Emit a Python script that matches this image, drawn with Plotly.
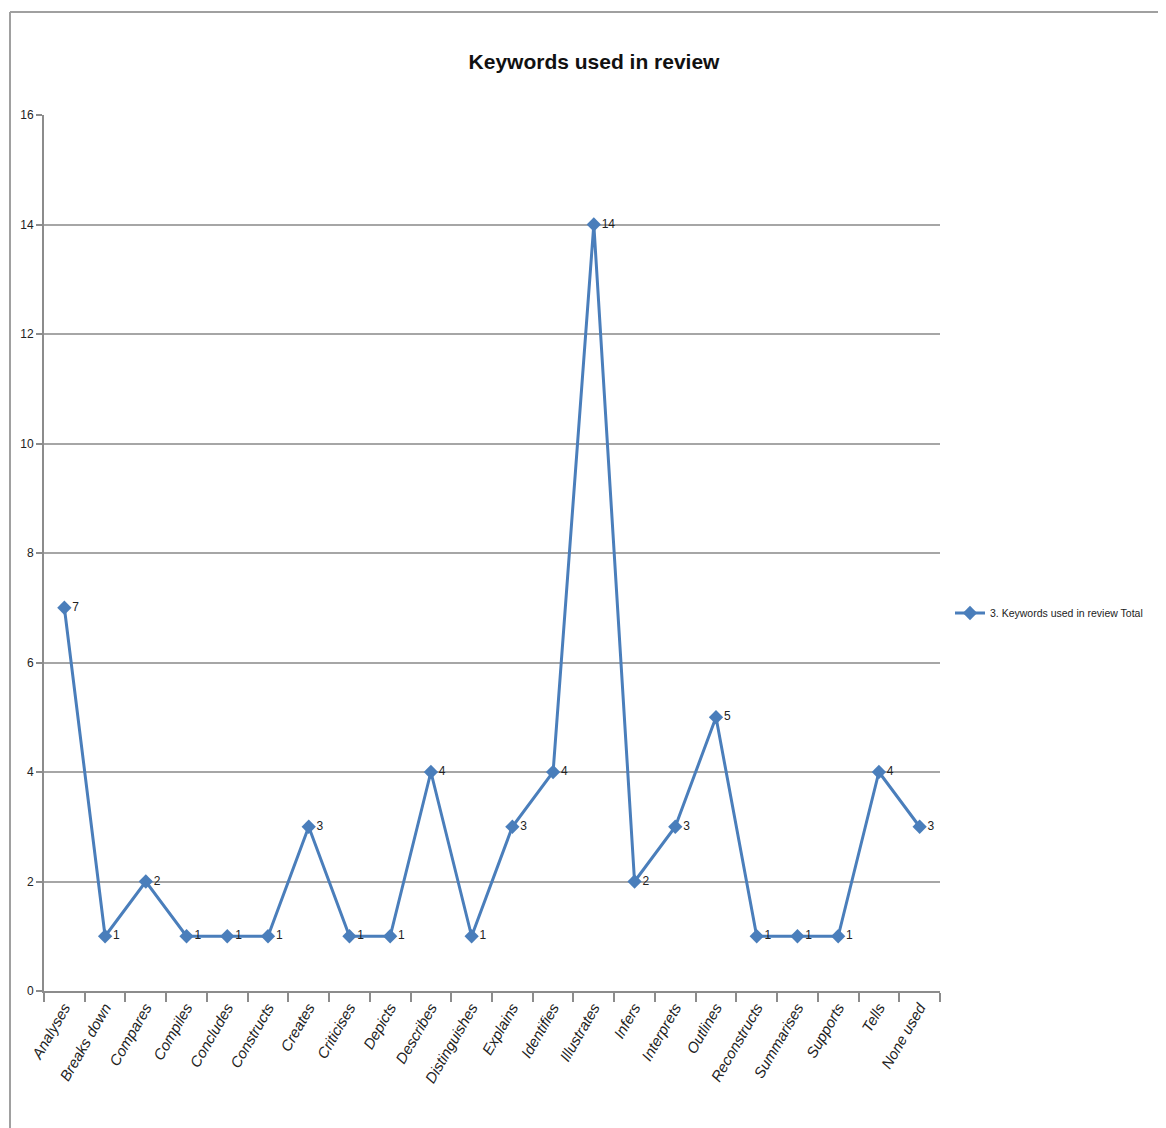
import plotly.graph_objects as go

categories = ["Analyses", "Breaks down", "Compares", "Compiles", "Concludes", "Constructs",
              "Creates", "Criticises", "Depicts", "Describes", "Distinguishes", "Explains",
              "Identifies", "Illustrates", "Infers", "Interprets", "Outlines", "Reconstructs",
              "Summarises", "Supports", "Tells", "None used"]
values = [7, 1, 2, 1, 1, 1, 3, 1, 1, 4, 1, 3, 4, 14, 2, 3, 5, 1, 1, 1, 4, 3]
series_name = "3. Keywords used in review Total"
title_text = "Keywords used in review"

# page body has an 8px margin; work in reference pixel coords and shift
OFF = 8
W, H = 1166 - OFF, 1128 - OFF
L, R, T, B = 44 - OFF, 940 - OFF, 115 - OFF, 991 - OFF

def px(x):
    return (x - OFF - L) / (R - L)

def py(y):
    return (B - (y - OFF)) / (B - T)

FONT = "Liberation Sans, Arial, sans-serif"
BLUE = "#4a7ebb"

fig = go.Figure()
fig.add_trace(go.Scatter(
    x=categories, y=values, mode="lines+markers+text", name=series_name,
    line=dict(color=BLUE, width=3),
    marker=dict(symbol="diamond", size=11, color=BLUE),
    text=[str(v) for v in values], textposition="middle right",
    textfont=dict(family=FONT, size=12, color="#222222"),
    cliponaxis=False,
))

fig.update_layout(
    width=W, height=H, autosize=False,
    margin=dict(l=L, r=W - R, t=T, b=H - B, autoexpand=False),
    paper_bgcolor="white", plot_bgcolor="white",
    title=dict(text=title_text, x=(594 - OFF) / W, y=1 - (62 - OFF) / H,
               xanchor="center", yanchor="middle",
               xref="container", yref="container",
               font=dict(family=FONT, size=21, color="#111111", weight="bold")),
    showlegend=True,
    legend=dict(x=px(950), y=py(613), xanchor="left", yanchor="middle",
                font=dict(family=FONT, size=10.5, color="#222222"),
                itemwidth=30,
                bgcolor="rgba(0,0,0,0)"),
    font=dict(family=FONT),
)

fig.update_xaxes(
    type="category", range=[-0.5, len(categories) - 0.5], automargin=False,
    tickson="boundaries", ticks="outside", ticklen=9, tickcolor="#8c8c8c", tickwidth=1.5,
    showline=True, linecolor="#8c8c8c", linewidth=2, showgrid=False,
    tickangle=-60,
    tickfont=dict(family=FONT, size=15, color="#222222", style="italic"),
)
fig.update_yaxes(
    range=[0, 16], dtick=2, ticks="outside", ticklen=6, tickcolor="#8c8c8c", tickwidth=1.5,
    automargin=False,
    showline=True, linecolor="#8c8c8c", linewidth=2,
    showgrid=True, gridcolor="#a6a6a6", gridwidth=1.5, zeroline=False,
    tickfont=dict(family=FONT, size=12, color="#222222"),
)

# outer chart border (left and top edges visible)
fig.add_shape(type="line", xref="paper", yref="paper",
              x0=px(10), x1=px(10), y0=py(1140), y1=py(12),
              line=dict(color="#a0a0a0", width=2))
fig.add_shape(type="line", xref="paper", yref="paper",
              x0=px(10), x1=px(1170), y0=py(12), y1=py(12),
              line=dict(color="#a0a0a0", width=2))

fig.write_html("out.html")
